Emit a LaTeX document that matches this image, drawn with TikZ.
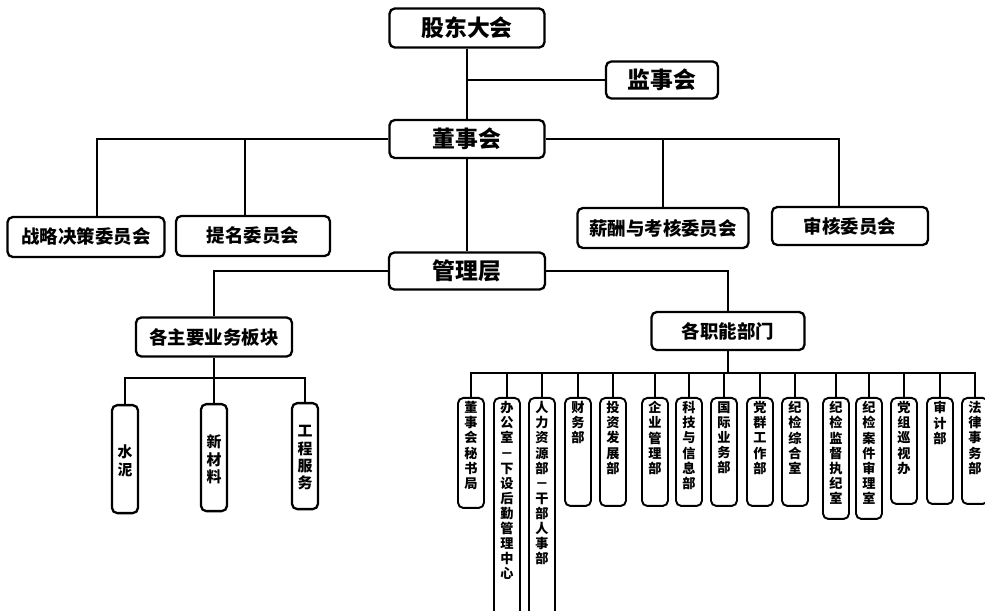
\documentclass[tikz,border=0pt]{standalone}
\usepackage{fontspec}
\setmainfont{Noto Sans CJK SC}
\usetikzlibrary{calc}

\newcommand{\colbox}[3][t]{\parbox[c][#2][#1]{0.52cm}{\centering\vspace*{2pt}#3}}

\begin{document}
\begin{tikzpicture}[x=0.02cm,y=-0.02cm,
  box/.style={draw,line width=1.3pt,rounded corners=3pt,inner sep=0pt},
  big/.style={box,font=\bfseries\fontsize{13}{15}\selectfont},
  mid/.style={box,font=\bfseries\fontsize{10.5}{12}\selectfont},
  col/.style={box,anchor=north,font=\bfseries\fontsize{8.5}{9.9}\selectfont},
  dept/.style={box,anchor=north,line width=1.1pt,font=\bfseries\fontsize{7.5}{8.6}\selectfont},
  line/.style={line width=1.1pt}]

\useasboundingbox (0,0) rectangle (985,611);

% --- top levels ---
\node[big,minimum width=3.1cm,minimum height=0.78cm] (gd) at (467,28) {股东大会};
\node[big,minimum width=2.24cm,minimum height=0.74cm] (jsh) at (662,80) {监事会};
\node[big,minimum width=3.1cm,minimum height=0.76cm] (dsh) at (467,139) {董事会};

% --- committees ---
\node[mid,minimum width=3.14cm,minimum height=0.8cm] (zl) at (86,237) {战略决策委员会};
\node[mid,minimum width=3.08cm,minimum height=0.8cm] (tm) at (253,236) {提名委员会};
\node[mid,minimum width=3.42cm,minimum height=0.8cm] (xc) at (663,228) {薪酬与考核委员会};
\node[mid,minimum width=3.12cm,minimum height=0.76cm] (sh) at (850,226) {审核委员会};

% --- management ---
\node[big,minimum width=3.12cm,minimum height=0.74cm] (glc) at (467,271) {管理层};
\node[mid,minimum width=3.12cm,minimum height=0.78cm] (zy) at (214,337) {各主要业务板块};
\node[mid,minimum width=3.06cm,minimum height=0.76cm] (zn) at (728,331) {各职能部门};

% --- business units ---
\node[col] (sn) at (125,404) {\colbox[c]{2.16cm}{水\\泥}};
\node[col] (xcl) at (214,403) {\colbox[c]{2.14cm}{新\\材\\料}};
\node[col] (gcfw) at (305,402) {\colbox[c]{2.12cm}{工\\程\\服\\务}};

% --- departments ---
\foreach \n/\x/\h/\t in {
  d1/471/2.2cm/董\\事\\会\\秘\\书\\局,
  d2/507/4.36cm/办\\公\\室\\－\\下\\设\\后\\勤\\管\\理\\中\\心,
  d3/542/4.36cm/人\\力\\资\\源\\部\\－\\干\\部\\人\\事\\部,
  d4/578/2.16cm/财\\务\\部,
  d5/613/2.16cm/投\\资\\发\\展\\部,
  d6/655/2.16cm/企\\业\\管\\理\\部,
  d7/689/2.16cm/科\\技\\与\\信\\息\\部,
  d8/724/2.16cm/国\\际\\业\\务\\部,
  d9/760/2.16cm/党\\群\\工\\作\\部,
  d10/795/2.16cm/纪\\检\\综\\合\\室,
  d11/836/2.42cm/纪\\检\\监\\督\\执\\纪\\室,
  d12/869/2.42cm/纪\\检\\案\\件\\审\\理\\室,
  d13/904/2.12cm/党\\组\\巡\\视\\办,
  d14/940/2.12cm/审\\计\\部,
  d15/975/2.12cm/法\\律\\事\\务\\部}
  \node[dept] (\n) at (\x,397) {\colbox{\h}{\t}};

% --- connectors ---
\draw[line] (gd.south) -- (dsh.north);
\draw[line] (gd.south |- jsh.west) -- (jsh.west);
\draw[line] (dsh.west) -| ([xshift=0.22cm]zl.north);
\draw[line] ([xshift=-0.16cm]tm.north |- dsh.west) -- ([xshift=-0.16cm]tm.north);
\draw[line] (dsh.east) -| ([xshift=-0.22cm]sh.north);
\draw[line] (xc.north |- dsh.east) -- (xc.north);
\draw[line] (dsh.south) -- (glc.north);
\draw[line] (glc.west) -| (zy.north);
\draw[line] (glc.east) -| (zn.north);

% business bus
\coordinate (busL) at (214,378);
\draw[line] (zy.south) -- (busL);
\draw[line] (sn.north) |- (busL) -| (gcfw.north);
\draw[line] (busL) -- (xcl.north);

% department bus
\coordinate (busR) at (728,373);
\draw[line] (zn.south) -- (busR);
\draw[line] (d1.north) |- (busR) -| (d15.north);
\foreach \i in {2,...,14} \draw[line] (d\i.north) -- (d\i.north |- busR);

\end{tikzpicture}
\end{document}
